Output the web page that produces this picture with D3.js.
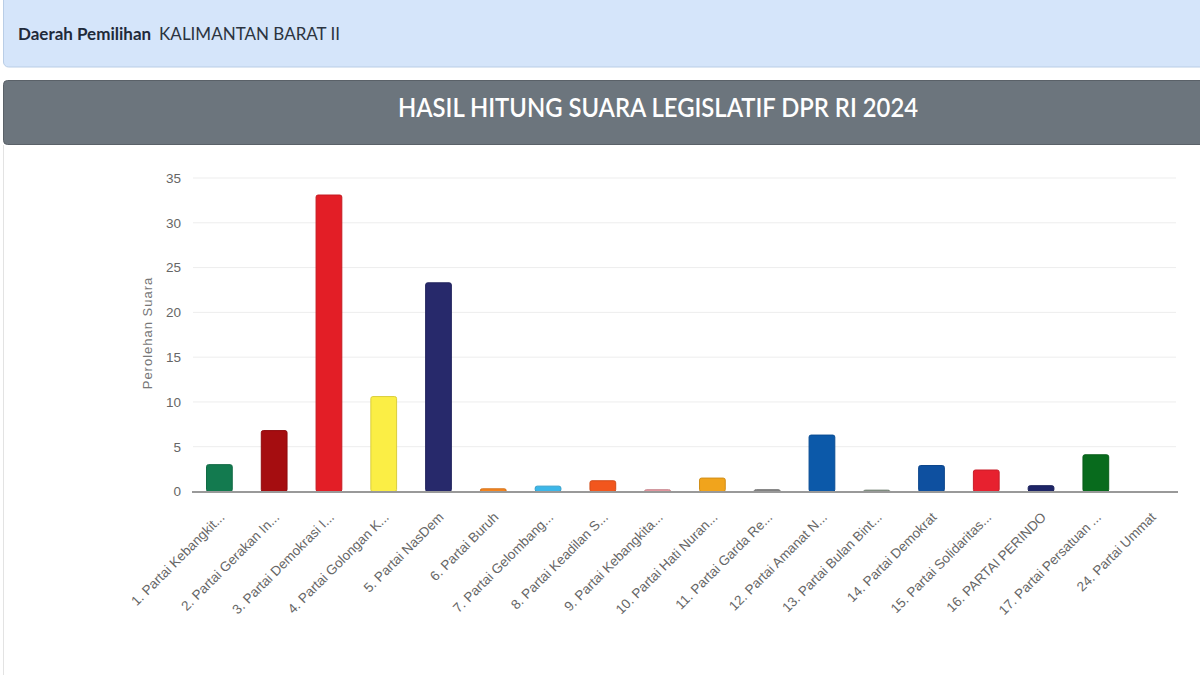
<!DOCTYPE html>
<html>
<head>
<meta charset="utf-8">
<script src="https://cdn.jsdelivr.net/npm/d3@7"></script>
<style>
  body { margin: 0; background: #fff; }
  svg { display: block; }
</style>
</head>
<body>
<div id="chart"></div>
<script>
// party labels (as shown, truncated like the source)
var parties = ["1. Partai Kebangkit...", "2. Partai Gerakan In...", "3. Partai Demokrasi I...",
  "4. Partai Golongan K...", "5. Partai NasDem", "6. Partai Buruh", "7. Partai Gelombang...",
  "8. Partai Keadilan S...", "9. Partai Kebangkita...", "10. Partai Hati Nuran...",
  "11. Partai Garda Re...", "12. Partai Amanat N...", "13. Partai Bulan Bint...",
  "14. Partai Demokrat", "15. Partai Solidaritas...", "16. PARTAI PERINDO",
  "17. Partai Persatuan ...", "24. Partai Ummat"];
var votes = [3.0, 6.8, 33.1, 10.6, 23.3, 0.3, 0.6, 1.2, 0.2, 1.5, 0.2, 6.3, 0.15, 2.9, 2.4, 0.65, 4.1, 0];
var colors = ["#137a4f", "#a50d10", "#e31e26", "#fbee45", "#27296b", "#f5851f", "#3cb7e9",
  "#f2561d", "#e79aa3", "#f1a41c", "#858585", "#0c59a9", "#7f8f7f", "#0e50a0", "#e7212f",
  "#1e2567", "#086b1d", "#555555"];
var yTicks = [0, 5, 10, 15, 20, 25, 30, 35];

var W = 1200, H = 675;
var svg = d3.select("#chart").append("svg").attr("width", W).attr("height", H);

// top "Daerah Pemilihan" panel
svg.append("rect").attr("x", 3.5).attr("y", -10).attr("width", 1210).attr("height", 77)
  .attr("rx", 5).attr("fill", "#d5e5fa").attr("stroke", "#b9cde6");
var dp = svg.append("text").attr("x", 18).attr("y", 40)
  .attr("font-family", "Lato, 'Open Sans', sans-serif").attr("font-size", 17).attr("fill", "#1f2a3a");
dp.append("tspan").attr("font-weight", "bold").text("Daerah Pemilihan");
dp.append("tspan").attr("dx", 8).attr("fill", "#2c3440").text("KALIMANTAN BARAT II");

// gray title bar
svg.append("rect").attr("x", 3.5).attr("y", 80.5).attr("width", 1210).attr("height", 64)
  .attr("rx", 4).attr("fill", "#6c757d").attr("stroke", "#5a6168");
svg.append("text").attr("x", 658).attr("y", 117).attr("text-anchor", "middle")
  .attr("font-family", "Lato, 'Open Sans', sans-serif").attr("font-weight", 600)
  .attr("font-size", 27).attr("fill", "#fff")
  .attr("textLength", 520).attr("lengthAdjust", "spacingAndGlyphs")
  .text("HASIL HITUNG SUARA LEGISLATIF DPR RI 2024");
svg.append("line").attr("x1", 3.5).attr("x2", 3.5).attr("y1", 145).attr("y2", H)
  .attr("stroke", "#e3e3e3");

// scales
var x = d3.scaleBand().domain(parties).range([192, 1178]).paddingInner(0.53).paddingOuter(0.265);
var y = d3.scaleLinear().domain([0, 35]).range([491.5, 178]);

// gridlines
svg.append("g").selectAll("line").data(yTicks.slice(1)).join("line")
  .attr("x1", 193).attr("x2", 1176)
  .attr("y1", d => y(d)).attr("y2", d => y(d))
  .attr("stroke", "#ededed").attr("stroke-width", 1);

// y axis
var yAxis = svg.append("g").attr("transform", "translate(181,0)")
  .call(d3.axisLeft(y).tickValues(yTicks).tickSize(0).tickPadding(0))
  .call(g => g.select(".domain").remove());
yAxis.selectAll("text").attr("font-family", "Arial, 'Liberation Sans', sans-serif")
  .attr("font-size", 13.5).attr("fill", "#666");

svg.append("text").attr("transform", "translate(152,333) rotate(-90)")
  .attr("text-anchor", "middle").attr("font-family", "Arial, 'Liberation Sans', sans-serif")
  .attr("font-size", 13).attr("letter-spacing", 1).attr("fill", "#777")
  .text("Perolehan Suara");

// bars
svg.append("g").selectAll("rect").data(votes).join("rect")
  .attr("x", (d, i) => x(parties[i]))
  .attr("width", x.bandwidth())
  .attr("y", d => y(d))
  .attr("height", d => y(0) - y(d))
  .attr("rx", 2)
  .attr("fill", (d, i) => colors[i])
  .attr("stroke", (d, i) => d3.color(colors[i]).darker(0.4))
  .attr("stroke-width", 1);

// baseline
svg.append("line").attr("x1", 192).attr("x2", 1178).attr("y1", y(0) + 0.5).attr("y2", y(0) + 0.5)
  .attr("stroke", "#999").attr("stroke-width", 2);

// x labels
svg.append("g").selectAll("text").data(parties).join("text")
  .attr("transform", d => "translate(" + (x(d) + x.bandwidth() / 2 + 6) + ",518) rotate(-45)")
  .attr("text-anchor", "end")
  .attr("font-family", "Arial, 'Liberation Sans', sans-serif")
  .attr("font-size", 13.5).attr("fill", "#666")
  .text(d => d);
</script>
</body>
</html>
